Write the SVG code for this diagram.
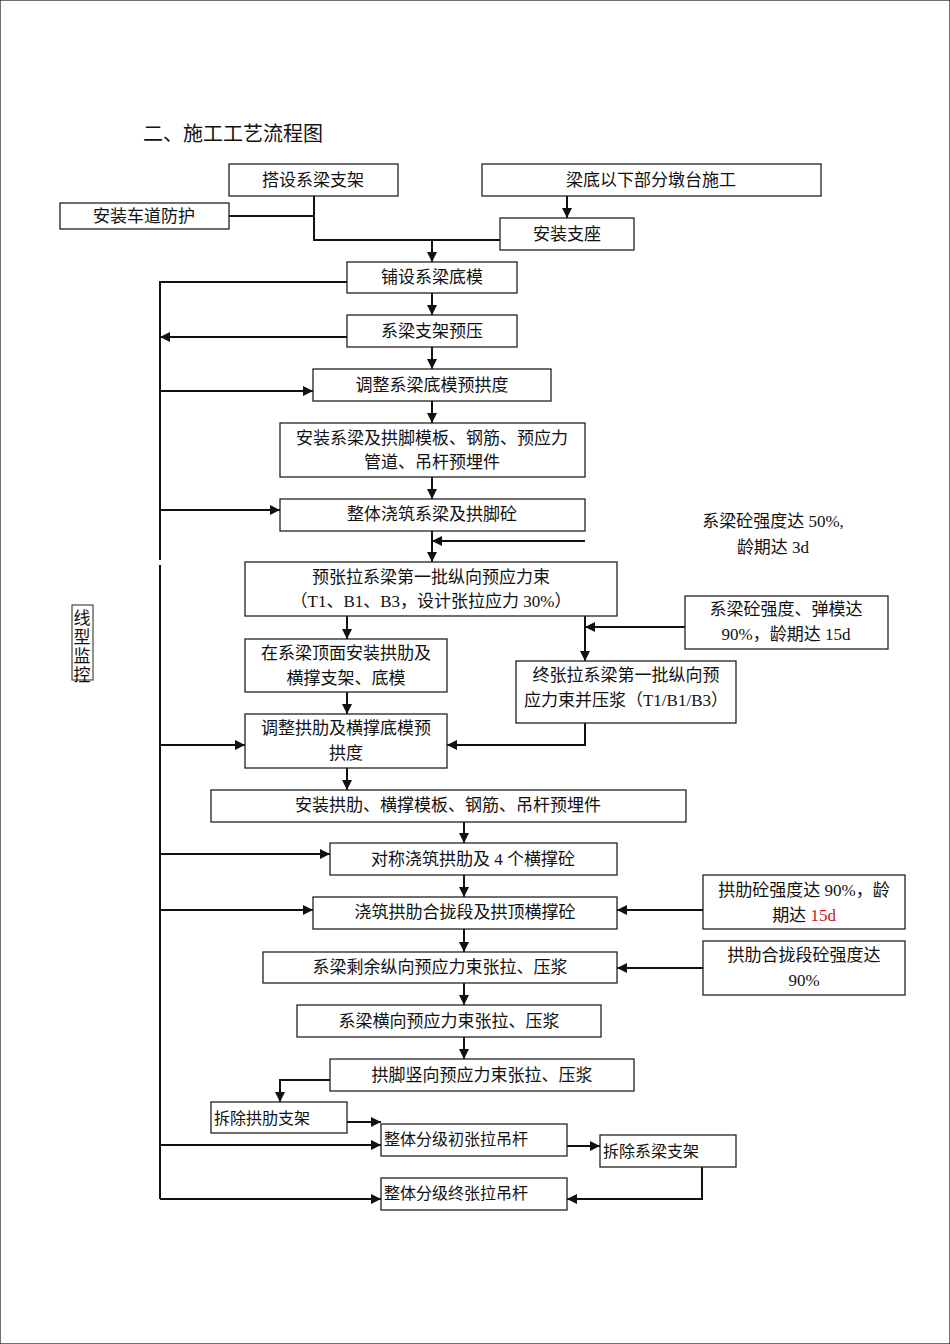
<svg xmlns="http://www.w3.org/2000/svg" width="950" height="1344" viewBox="0 0 950 1344">
<style>
rect{fill:#fff;stroke:#222;stroke-width:1.3}
text{font-family:"Liberation Serif","Noto Sans CJK SC",serif;font-size:17px;fill:#111;text-anchor:middle}
.c line,.c polyline{stroke:#111;stroke-width:2;fill:none}
</style>
<defs><marker id="a" viewBox="0 0 10 10" refX="10" refY="5" markerWidth="5" markerHeight="5" orient="auto"><path d="M0,0L10,5L0,10z" fill="#111"/></marker></defs>
<rect width="950" height="1344" fill="#fff" stroke="none"/>
<text x="143" y="141" style="text-anchor:start;font-size:20px">二、施工工艺流程图</text>
<g class="c">
<polyline points="314,196 314,240 500,240"/>
<line x1="229" y1="216" x2="314" y2="216"/>
<line x1="567" y1="196" x2="567" y2="218" marker-end="url(#a)"/>
<line x1="432" y1="240" x2="432" y2="262" marker-end="url(#a)"/>
<line x1="432" y1="293" x2="432" y2="315" marker-end="url(#a)"/>
<line x1="432" y1="347" x2="432" y2="369" marker-end="url(#a)"/>
<line x1="432" y1="401" x2="432" y2="423" marker-end="url(#a)"/>
<line x1="432" y1="477" x2="432" y2="499" marker-end="url(#a)"/>
<line x1="432" y1="531" x2="432" y2="562" marker-end="url(#a)"/>
<line x1="585" y1="541" x2="432" y2="541" marker-end="url(#a)"/>
<line x1="347" y1="616" x2="347" y2="639" marker-end="url(#a)"/>
<line x1="347" y1="692" x2="347" y2="714" marker-end="url(#a)"/>
<line x1="347" y1="768" x2="347" y2="790" marker-end="url(#a)"/>
<line x1="685" y1="627" x2="585" y2="627" marker-end="url(#a)"/>
<line x1="585" y1="616" x2="585" y2="661" marker-end="url(#a)"/>
<polyline points="585,723 585,745 447,745" marker-end="url(#a)"/>
<line x1="464" y1="822" x2="464" y2="843" marker-end="url(#a)"/>
<line x1="464" y1="875" x2="464" y2="897" marker-end="url(#a)"/>
<line x1="464" y1="929" x2="464" y2="952" marker-end="url(#a)"/>
<line x1="464" y1="983" x2="464" y2="1005" marker-end="url(#a)"/>
<line x1="464" y1="1037" x2="464" y2="1059" marker-end="url(#a)"/>
<line x1="703" y1="910" x2="617" y2="910" marker-end="url(#a)"/>
<line x1="703" y1="968" x2="617" y2="968" marker-end="url(#a)"/>
<polyline points="330,1080 280,1080 280,1102" marker-end="url(#a)"/>
<line x1="347" y1="1122" x2="381" y2="1122" marker-end="url(#a)"/>
<line x1="567" y1="1146" x2="600" y2="1146" marker-end="url(#a)"/>
<polyline points="702,1167 702,1199 567,1199" marker-end="url(#a)"/>
<polyline points="347,282 160,282 160,560"/>
<line x1="160" y1="565" x2="160" y2="1199"/>
<line x1="347" y1="337" x2="160" y2="337" marker-end="url(#a)"/>
<line x1="160" y1="391" x2="313" y2="391" marker-end="url(#a)"/>
<line x1="160" y1="510" x2="280" y2="510" marker-end="url(#a)"/>
<line x1="160" y1="745" x2="245" y2="745" marker-end="url(#a)"/>
<line x1="160" y1="854" x2="330" y2="854" marker-end="url(#a)"/>
<line x1="160" y1="910" x2="313" y2="910" marker-end="url(#a)"/>
<line x1="160" y1="1145" x2="381" y2="1145" marker-end="url(#a)"/>
<line x1="160" y1="1199" x2="381" y2="1199" marker-end="url(#a)"/>
</g>
<g id="n1"><rect x="229" y="164" width="169" height="32"/><text x="313" y="186">搭设系梁支架</text></g>
<g id="n2"><rect x="482" y="164" width="339" height="32"/><text x="651" y="186">梁底以下部分墩台施工</text></g>
<g id="n3"><rect x="60" y="203" width="169" height="26"/><text x="144" y="222">安装车道防护</text></g>
<g id="n4"><rect x="500" y="218" width="134" height="32"/><text x="567" y="240">安装支座</text></g>
<g id="n5"><rect x="347" y="262" width="170" height="31"/><text x="432" y="283">铺设系梁底模</text></g>
<g id="n6"><rect x="347" y="315" width="170" height="32"/><text x="432" y="337">系梁支架预压</text></g>
<g id="n7"><rect x="313" y="369" width="238" height="32"/><text x="432" y="391">调整系梁底模预拱度</text></g>
<g id="n8"><rect x="280" y="423" width="305" height="54"/><text x="432" y="444">安装系梁及拱脚模板、钢筋、预应力</text><text x="432" y="468">管道、吊杆预埋件</text></g>
<g id="n9"><rect x="280" y="499" width="305" height="32"/><text x="432" y="520">整体浇筑系梁及拱脚砼</text></g>
<g id="t1"><text x="773" y="527">系梁砼强度达 50%,</text><text x="773" y="553">龄期达 3d</text></g>
<g id="n10"><rect x="245" y="562" width="372" height="54"/><text x="431" y="583">预张拉系梁第一批纵向预应力束</text><text x="431" y="607">（T1、B1、B3，设计张拉应力 30%）</text></g>
<g id="n11"><rect x="685" y="596" width="203" height="53"/><text x="786" y="615">系梁砼强度、弹模达</text><text x="786" y="640">90%，龄期达 15d</text></g>
<g id="n12"><rect x="245" y="639" width="202" height="53"/><text x="346" y="659">在系梁顶面安装拱肋及</text><text x="346" y="684">横撑支架、底模</text></g>
<g id="n13"><rect x="516" y="661" width="220" height="62"/><text x="626" y="681">终张拉系梁第一批纵向预</text><text x="626" y="706">应力束并压浆（T1/B1/B3）</text></g>
<g id="n14"><rect x="245" y="714" width="202" height="54"/><text x="346" y="734">调整拱肋及横撑底模预</text><text x="346" y="759">拱度</text></g>
<g id="n15"><rect x="211" y="790" width="475" height="32"/><text x="448" y="811">安装拱肋、横撑模板、钢筋、吊杆预埋件</text></g>
<g id="n16"><rect x="330" y="843" width="287" height="32"/><text x="473" y="865">对称浇筑拱肋及 4 个横撑砼</text></g>
<g id="n17"><rect x="313" y="897" width="304" height="32"/><text x="465" y="918">浇筑拱肋合拢段及拱顶横撑砼</text></g>
<g id="n18"><rect x="703" y="875" width="202" height="54"/><text x="804" y="896">拱肋砼强度达 90%，龄</text><text x="804" y="921">期达 <tspan fill="#d0141e">15d</tspan></text></g>
<g id="n19"><rect x="263" y="952" width="354" height="31"/><text x="440" y="973">系梁剩余纵向预应力束张拉、压浆</text></g>
<g id="n20"><rect x="703" y="941" width="202" height="54"/><text x="804" y="961">拱肋合拢段砼强度达</text><text x="804" y="986">90%</text></g>
<g id="n21"><rect x="297" y="1005" width="304" height="32"/><text x="449" y="1027">系梁横向预应力束张拉、压浆</text></g>
<g id="n22"><rect x="330" y="1059" width="304" height="32"/><text x="482" y="1081">拱脚竖向预应力束张拉、压浆</text></g>
<g id="n23"><rect x="211" y="1102" width="136" height="31"/><text x="214" y="1124" style="text-anchor:start;font-size:16px">拆除拱肋支架</text></g>
<g id="n24"><rect x="381" y="1124" width="186" height="32"/><text x="384" y="1145" style="text-anchor:start;font-size:16px">整体分级初张拉吊杆</text></g>
<g id="n25"><rect x="600" y="1135" width="136" height="32"/><text x="603" y="1157" style="text-anchor:start;font-size:16px">拆除系梁支架</text></g>
<g id="n26"><rect x="381" y="1178" width="186" height="32"/><text x="384" y="1199" style="text-anchor:start;font-size:16px">整体分级终张拉吊杆</text></g>
<g id="lbl"><rect x="72" y="605" width="21" height="75" style="stroke-width:1"/><text x="82" y="624">线</text><text x="82" y="643">型</text><text x="82" y="662">监</text><text x="82" y="681">控</text></g>
</svg>
